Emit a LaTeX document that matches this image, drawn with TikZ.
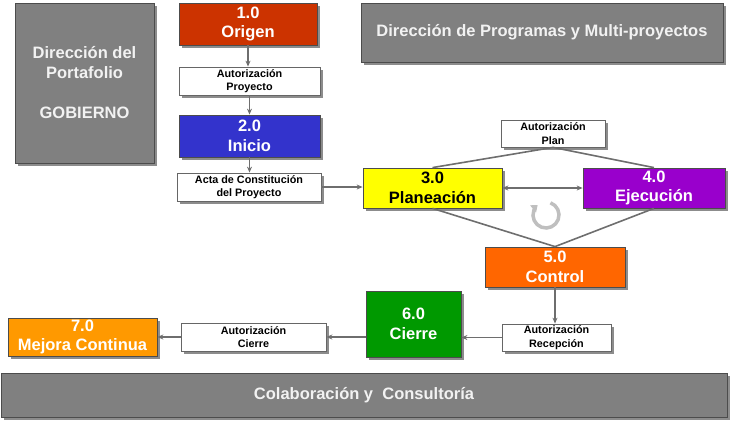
\documentclass[tikz,border=0pt]{standalone}
\usepackage{fontspec}
\setmainfont{Liberation Sans}
\usetikzlibrary{shadows,arrows.meta,calc}
\definecolor{boxgray}{HTML}{808080}
\definecolor{linegray}{HTML}{6E6E6E}
\definecolor{corigen}{HTML}{CC3300}
\definecolor{cinicio}{HTML}{3333CC}
\definecolor{cplan}{HTML}{FFFF00}
\definecolor{cejec}{HTML}{9900CC}
\definecolor{ccontrol}{HTML}{FF6600}
\definecolor{ccierre}{HTML}{009900}
\definecolor{cmejora}{HTML}{FF9900}
\definecolor{txtlight}{HTML}{F2F2F2}
\tikzset{
  base/.style={draw=black!70, line width=0.8pt, inner sep=0pt, align=center,
    font=\bfseries, drop shadow={shadow xshift=3pt, shadow yshift=-3pt, fill=black!45, opacity=1}},
  phase/.style={base, text=white, font=\fontsize{16.5}{19.5}\selectfont\bfseries},
  auth/.style={base, draw=black!60, fill=white, text=black, font=\fontsize{10.8}{13.5}\selectfont\bfseries},
  grayblock/.style={base, fill=boxgray, text=txtlight, font=\fontsize{16.5}{20}\selectfont\bfseries},
  conn/.style={draw=linegray, line width=1.6pt, -{Stealth[length=6pt,width=5pt]}},
  plain/.style={draw=linegray, line width=1.6pt}
}
\begin{document}
\begin{tikzpicture}[x=1pt,y=-1pt]
\useasboundingbox (0,0) rectangle (732,426);
% gray blocks
\node[grayblock, minimum width=139pt, minimum height=160pt] (port) at (84.5,83)
  {Dirección del\\Portafolio\\[20pt]GOBIERNO};
\node[grayblock, minimum width=362pt, minimum height=59pt] (prog) at (542,32.5)
  {Dirección de Programas y Multi-proyectos};
\node[grayblock, minimum width=726pt, minimum height=44pt] (col) at (364,395)
  {Colaboración y\ \ Consultoría};
% phases
\node[phase, fill=corigen, minimum width=138pt, minimum height=42pt] (o1) at (248,24) {1.0\\Origen};
\node[auth, minimum width=141pt, minimum height=28pt] (ap) at (249.5,81) {Autorización\\Proyecto};
\node[phase, fill=cinicio, minimum width=141pt, minimum height=42pt] (i2) at (249.5,136) {2.0\\Inicio};
\node[auth, minimum width=144pt, minimum height=28pt] (acta) at (249,187) {Acta de Constitución\\del Proyecto};
\node[auth, minimum width=104pt, minimum height=27pt] (aplan) at (553,133.5) {Autorización\\Plan};
\node[phase, fill=cplan, text=black, minimum width=139pt, minimum height=40pt] (p3) at (432.5,188) {3.0\\Planeación};
\node[phase, fill=cejec, minimum width=142pt, minimum height=40pt] (e4) at (654,188) {4.0\\Ejecución};
\node[phase, fill=ccontrol, minimum width=140pt, minimum height=40pt] (c5) at (555,267) {5.0\\Control};
\node[auth, minimum width=109pt, minimum height=27pt] (arec) at (556.5,337.5) {Autorización\\Recepción};
\node[phase, fill=ccierre, minimum width=95pt, minimum height=66pt] (ci6) at (413.5,324) {6.0\\Cierre};
\node[auth, minimum width=145pt, minimum height=28pt] (acie) at (253.5,337) {Autorización\\Cierre};
\node[phase, fill=cmejora, minimum width=149pt, minimum height=38pt] (m7) at (82.5,337) {7.0\\Mejora Continua};
% connectors
\draw[conn] (o1.south) -- (o1.south |- ap.north);
\draw[conn] (ap.south) -- (ap.south |- i2.north);
\draw[conn] (i2.south) -- (i2.south |- acta.north);
\draw[conn] (acta.east) -- (acta.east -| p3.west);
\draw[conn, {Stealth[length=6pt,width=5pt]}-{Stealth[length=6pt,width=5pt]}] (p3.east) -- (e4.west);
\draw[plain] (aplan.south) -- (p3.north);
\draw[plain] (aplan.south) -- (e4.north);
\draw[plain] (p3.south) -- (c5.north);
\draw[plain] (e4.south) -- (c5.north);
\draw[conn] (c5.south) -- (c5.south |- arec.north);
\draw[conn] (arec.west) -- (arec.west -| ci6.east);
\draw[conn] (ci6.west |- acie.east) -- (acie.east);
\draw[conn] (acie.west) -- (m7.east);
% cycle symbol
\coordinate (cyc) at (546,215);
\draw[draw=black!25, line width=3.5pt, -{Triangle[length=6pt,width=9pt]}]
  ($(cyc)+(-70:13)$) arc[start angle=-70, end angle=230, radius=13];
\end{tikzpicture}
\end{document}
